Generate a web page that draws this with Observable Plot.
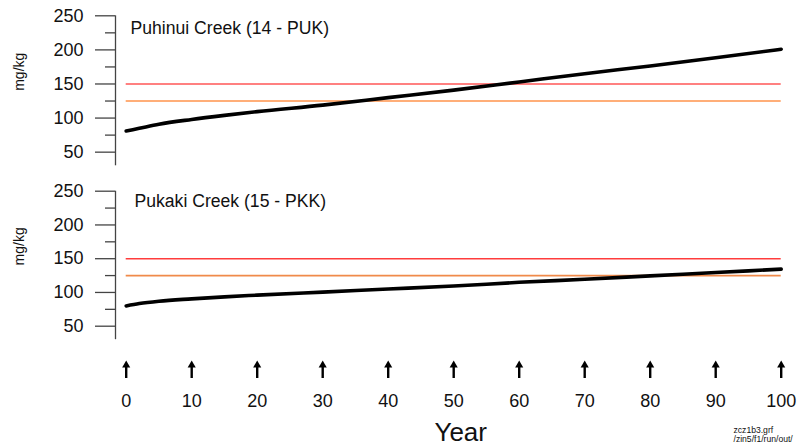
<!DOCTYPE html>
<html>
<head>
<meta charset="utf-8">
<script src="https://cdn.jsdelivr.net/npm/d3@7"></script>
<script src="https://cdn.jsdelivr.net/npm/@observablehq/plot@0.6"></script>
<style>
  html, body { margin: 0; padding: 0; background: #fff; }
  #chart { position: relative; width: 803px; height: 447px; overflow: hidden; background: #fff; font-family: "Liberation Sans", Arial, sans-serif; }
  #chart > svg, #chart > div { position: absolute; left: 0; }
</style>
</head>
<body>
<div id="chart"></div>
<script>
// ---- data ----
const years = [0, 2, 5, 10, 15, 20, 30, 40, 50, 60, 70, 80, 90, 100];
const puhinui = [81, 85, 91, 98, 104, 109.5, 119, 130, 141, 153, 165, 176.5, 188.5, 201];
const pukaki = [80, 83.5, 87, 90.5, 93.5, 96, 100.5, 105, 109.5, 115, 119.5, 124.5, 129.5, 134.5];
const thresholds = [150, 125];
const yTicks = [50, 100, 150, 200, 250];
const yMinorTicks = [75, 125, 175, 225];
const xTicks = [0, 10, 20, 30, 40, 50, 60, 70, 80, 90, 100];
const panelTitles = ["Puhinui Creek (14 - PUK)", "Pukaki Creek (15 - PKK)"];
const yLabel = "mg/kg";
const xLabel = "Year";
const footnote = "zcz1b3.grf\n/zin5/f1/run/out/";

const FONT = "Liberation Sans, Arial, sans-serif";
const W = 803;
const ML = 125.7, MR = 22.3;
const xDomain = [0, 100];
const yDomain = [30, 250];
const chart = document.getElementById("chart");

function panel({values, title, top, marginTop, marginBottom, titleDx, titleDy, colors, widths}) {
  const data = years.map((yr, i) => ({year: yr, value: values[i]}));
  const th = thresholds.map((v, i) => ({value: v, color: colors[i], w: widths[i]}));
  const p = Plot.plot({
    width: W,
    height: 175,
    marginLeft: ML,
    marginRight: MR,
    marginTop,
    marginBottom,
    style: {fontFamily: FONT, background: "transparent", overflow: "visible"},
    x: {domain: xDomain, axis: null},
    y: {domain: yDomain},
    marks: [
      Plot.ruleX([xDomain[0]], {y1: yDomain[0], y2: yDomain[1], dx: -10.7, stroke: "#444", strokeWidth: 1.3}),
      Plot.axisY({ticks: yTicks, tickSize: 20, tickPadding: 12, dx: -10.7, fontSize: 18, fill: "#111", stroke: "#444", strokeWidth: 1.3, label: null, tickFormat: d => String(d)}),
      Plot.axisY({ticks: yMinorTicks, tickSize: 10, dx: -10.7, fill: "none", stroke: "#444", strokeWidth: 1.3, label: null}),
      Plot.text([yLabel], {frameAnchor: "left", dx: -107, rotate: -90, fontSize: 14, fill: "#111"}),
      Plot.text([title], {frameAnchor: "top-left", textAnchor: "start", lineAnchor: "top", dx: titleDx, dy: titleDy, fontSize: 17.6, fill: "#111"}),
      Plot.ruleY(th, {y: "value", x1: xDomain[0], x2: xDomain[1], stroke: "color", strokeWidth: "w"}),
      Plot.line(data, {x: "year", y: "value", stroke: "#000", strokeWidth: 3.6, strokeLinejoin: "round", strokeLinecap: "round", curve: "monotone-x"})
    ]
  });
  p.style.top = top + "px";
  chart.appendChild(p);
}

panel({values: puhinui, title: panelTitles[0], top: 0, marginTop: 15.3, marginBottom: 9.7,
       titleDx: 4.3, titleDy: 5.8, colors: ["#ff8080", "#ffae78"], widths: [2, 2]});
panel({values: pukaki, title: panelTitles[1], top: 175, marginTop: 15.7, marginBottom: 10.8,
       titleDx: 8.3, titleDy: 3.7, colors: ["#ff3c3c", "#f08a4a"], widths: [1.6, 1.6]});

// x axis panel with arrows
const ax = Plot.plot({
  width: W,
  height: 97,
  marginLeft: ML,
  marginRight: MR,
  marginTop: 0,
  marginBottom: 0,
  style: {fontFamily: FONT, background: "transparent", overflow: "visible"},
  x: {domain: xDomain, axis: null},
  marks: [
    Plot.tickX(xTicks, {x: d => d, insetTop: 15, insetBottom: 69, stroke: "#000", strokeWidth: 2.4}),
    Plot.dot(xTicks, {x: d => d, frameAnchor: "top", dy: 14.6, symbol: "triangle", r: 3, fill: "#000"}),
    Plot.text(xTicks, {x: d => d, text: d => String(d), frameAnchor: "top", lineAnchor: "top", dy: 44.2, fontSize: 18, fill: "#111"}),
    Plot.text([xLabel], {frameAnchor: "top", lineAnchor: "top", dx: 7, dy: 72.5, fontSize: 26, fill: "#111"}),
    Plot.text([footnote], {frameAnchor: "top-left", textAnchor: "start", lineAnchor: "top", dx: 607.3, dy: 75.3, fontSize: 8.6, lineHeight: 1.12, fill: "#111"})
  ]
});
ax.style.top = "350px";
chart.appendChild(ax);
</script>
</body>
</html>
